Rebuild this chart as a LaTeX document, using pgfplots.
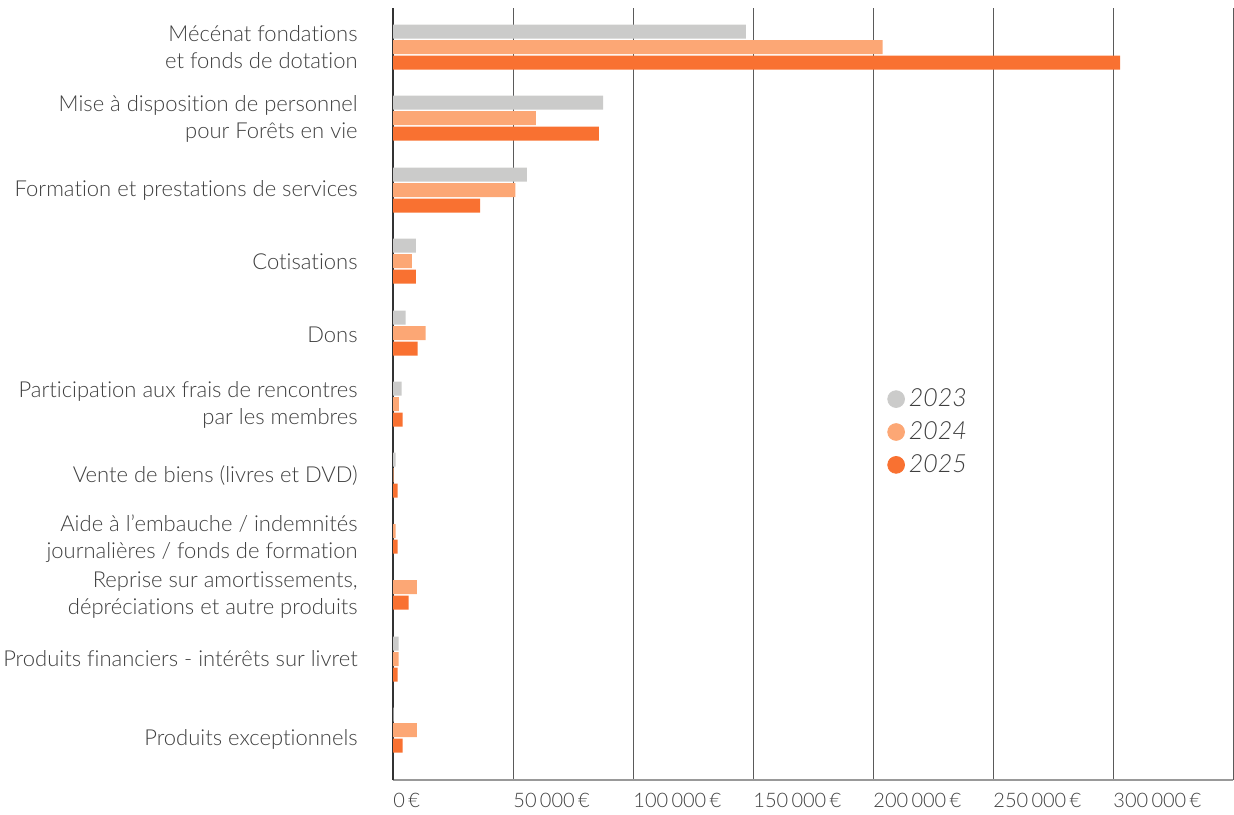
\documentclass[border=0pt]{standalone}
\usepackage{fontspec}
\setmainfont{Lato}[UprightFont={* Light}, ItalicFont={* Light Italic}, Ligatures={NoCommon, NoContextual}, RawFeature={-liga;-calt;-dlig}]
\usepackage{pgfplots}
\pgfplotsset{compat=1.18}
\definecolor{c23}{HTML}{CBCBCA}
\definecolor{c24}{HTML}{FCA775}
\definecolor{c25}{HTML}{F97131}
\definecolor{txt}{HTML}{3F3F3F}
\definecolor{gridc}{HTML}{5A5A5A}
\begin{document}
\begin{tikzpicture}
\begin{axis}[
  at={(196.5pt,-390pt)}, anchor=south west,
  scale only axis, width=420pt, height=386pt,
  xmin=0, xmax=350000, ymin=-780, ymax=-8,
  xbar, bar width=7pt, bar shift=0pt,
  axis x line*=bottom, axis y line*=left,
  x axis line style={-, draw=black!40, line width=0.6pt},
  y axis line style={-, draw=black!80, line width=1pt},
  major tick length=0pt,
  xtick={0,50000,100000,150000,200000,250000,300000,350000},
  xticklabels={0\,€,50\,000\,€,100\,000\,€,150\,000\,€,200\,000\,€,250\,000\,€,300\,000\,€,},
  xticklabel style={anchor=west, yshift=-10.2pt, inner sep=0pt, font=\fontsize{10}{12}\selectfont, text=txt},
  xmajorgrids, major grid style={draw=gridc, line width=0.5pt},
  ytick={-739,-659,-595,-538.5,-476,-405,-335,-262,-190,-118.5,-47.5},
  yticklabels={
    {Produits exceptionnels},
    {Produits financiers - intérêts sur livret},
    {Reprise sur amortissements,\\dépréciations et autre produits},
    {Aide à l’embauche / indemnités\\journalières / fonds de formation},
    {Vente de biens (livres et DVD)},
    {Participation aux frais de rencontres\\par les membres},
    {Dons},
    {Cotisations},
    {Formation et prestations de services},
    {Mise à disposition de personnel\\pour Forêts en vie},
    {Mécénat fondations\\et fonds de dotation}},
  yticklabel style={align=right, anchor=east, inner sep=0pt, xshift=-17.5pt, font=\fontsize{11}{13.5}\selectfont, text=txt},
  legend style={draw=none, fill=none, at={(0.588,0.4508)}, anchor=west, inner sep=0pt, row sep=2pt,
    font=\fontsize{12.5}{15}\selectfont\itshape, text=txt},
  legend cell align=left,
]
\addlegendimage{c23, legend image code/.code={\fill (4.2pt,0pt) circle (4.2pt);}}
\addlegendentry{2023}
\addlegendimage{c24, legend image code/.code={\fill (4.2pt,0pt) circle (4.2pt);}}
\addlegendentry{2024}
\addlegendimage{c25, legend image code/.code={\fill (4.2pt,0pt) circle (4.2pt);}}
\addlegendentry{2025}
\addplot[forget plot, fill=c23, draw=none] coordinates {
 (147000,-31.5) (87500,-102.5) (55800,-174.5) (9500,-245.5) (5300,-317.5)
 (3600,-388.5) (1100,-459.5) (2300,-643.5) (300,-714.5)};
\addplot[forget plot, fill=c24, draw=none] coordinates {
 (204000,-47) (59500,-118) (51000,-190) (7900,-261) (13600,-333) (2400,-404)
 (300,-475) (1100,-531) (9900,-587) (2300,-659) (9900,-730)};
\addplot[forget plot, fill=c25, draw=none] coordinates {
 (303000,-62.5) (85800,-133.5) (36300,-205.5) (9500,-276.5) (10300,-348.5)
 (4000,-419.5) (1900,-490.5) (1900,-546.5) (6500,-602.5) (1900,-674.5) (4000,-745.5)};
\end{axis}
\pgfresetboundingbox
\useasboundingbox (0,0) rectangle (617pt,-407pt);
\end{tikzpicture}
\end{document}
